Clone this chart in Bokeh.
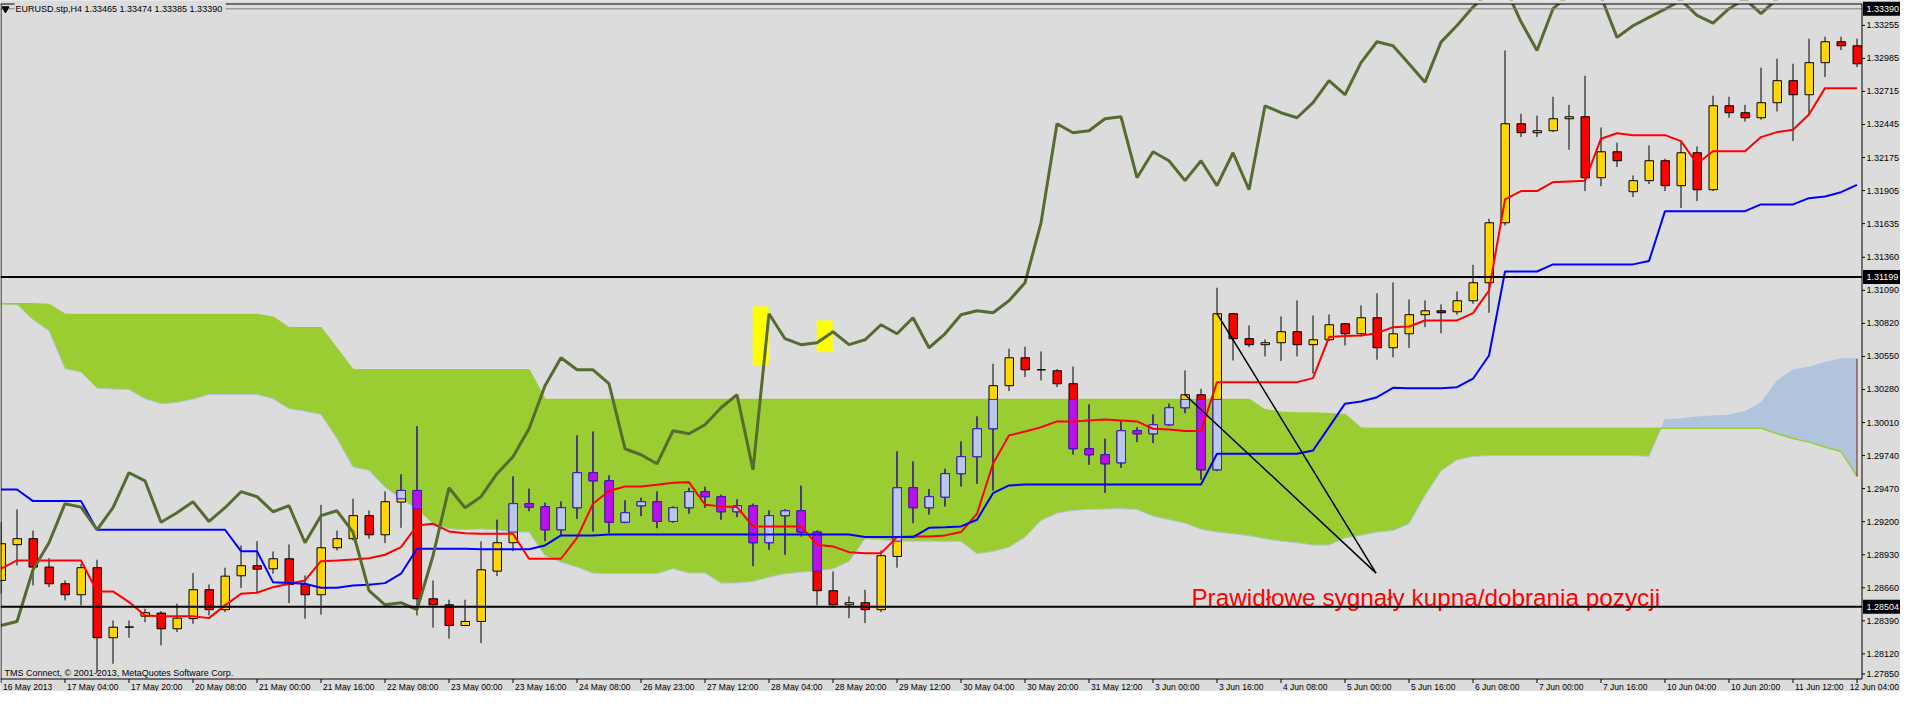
from bokeh.plotting import figure
from bokeh.models import Range1d, Label
from bokeh.core.properties import value
from bokeh.embed import file_html
from bokeh.resources import INLINE

# ---------------- data (EURUSD H4) ----------------
time_labels = ["16 May 2013", "17 May 04:00", "17 May 20:00", "20 May 08:00", "21 May 00:00",
               "21 May 16:00", "22 May 08:00", "23 May 00:00", "23 May 16:00", "24 May 08:00",
               "26 May 23:00", "27 May 12:00", "28 May 04:00", "28 May 20:00", "29 May 12:00",
               "30 May 04:00", "30 May 20:00", "31 May 12:00", "3 Jun 00:00", "3 Jun 16:00",
               "4 Jun 08:00", "5 Jun 00:00", "5 Jun 16:00", "6 Jun 08:00", "7 Jun 00:00",
               "7 Jun 16:00", "10 Jun 04:00", "10 Jun 20:00", "11 Jun 12:00", "12 Jun 04:00"]
time_label_bars = [0, 4, 8, 12, 16, 20, 24, 28, 32, 36, 40, 44, 48, 52, 56, 60, 64, 68, 72, 76,
                   80, 84, 88, 92, 96, 100, 104, 108, 112, 116]

price_tick_labels = ["1.27850", "1.28120", "1.28390", "1.28660", "1.28930", "1.29200", "1.29470",
                     "1.29740", "1.30010", "1.30280", "1.30550", "1.30820", "1.31090", "1.31360",
                     "1.31635", "1.31905", "1.32175", "1.32445", "1.32715", "1.32985", "1.33255"]

opens = [1.28720, 1.29012, 1.29061, 1.28829, 1.28693, 1.28603, 1.28824, 1.28252, 1.28338, 1.28428,
         1.28453, 1.28325, 1.28408, 1.28644, 1.28481, 1.28758, 1.28840, 1.28815, 1.28897, 1.28687,
         1.28603, 1.28987, 1.29061, 1.29249, 1.29093, 1.29360, 1.29455, 1.28570, 1.28521, 1.28352,
         1.28385, 1.28796, 1.29028, 1.29347, 1.29322, 1.29134, 1.29314, 1.29600, 1.29534, 1.29196,
         1.29330, 1.29363, 1.29202, 1.29314, 1.29445, 1.29404, 1.29281, 1.29330, 1.29028, 1.29249,
         1.29289, 1.29115, 1.28636, 1.28521, 1.28538, 1.28481, 1.28916, 1.29477, 1.29314, 1.29401,
         1.29592, 1.29731, 1.29959, 1.30311, 1.30539, 1.30441, 1.30433, 1.30327, 1.29796, 1.29747,
         1.29681, 1.29943, 1.29918, 1.29992, 1.30131, 1.30237, 1.29624, 1.30899, 1.30695, 1.30646,
         1.30662, 1.30752, 1.30646, 1.30686, 1.30817, 1.30735, 1.30866, 1.30621, 1.30735, 1.30891,
         1.30923, 1.30915, 1.31005, 1.31152, 1.31642, 1.32451, 1.32378, 1.32394, 1.32492, 1.32508,
         1.32010, 1.32222, 1.31896, 1.31986, 1.32149, 1.31945, 1.32214, 1.31912, 1.32598, 1.32541,
         1.32500, 1.32623, 1.32803, 1.32688, 1.32950, 1.33121, 1.33088]
highs = [1.29196, 1.29300, 1.29128, 1.28902, 1.28720, 1.28856, 1.28889, 1.28393, 1.28393, 1.28489,
         1.28469, 1.28530, 1.28780, 1.28687, 1.28824, 1.29006, 1.29041, 1.28957, 1.29014, 1.28761,
         1.29338, 1.29128, 1.29387, 1.29292, 1.29447, 1.29586, 1.29981, 1.28720, 1.28562, 1.28562,
         1.29039, 1.29216, 1.29570, 1.29469, 1.29355, 1.29365, 1.29905, 1.29937, 1.29578, 1.29374,
         1.29396, 1.29447, 1.29325, 1.29477, 1.29485, 1.29420, 1.29382, 1.29347, 1.29292, 1.29302,
         1.29494, 1.29128, 1.28793, 1.28589, 1.28644, 1.28965, 1.29774, 1.29692, 1.29466, 1.29632,
         1.29856, 1.30060, 1.30490, 1.30613, 1.30629, 1.30591, 1.30446, 1.30468, 1.30158, 1.29878,
         1.30027, 1.29970, 1.30076, 1.30164, 1.30436, 1.30286, 1.31111, 1.30905, 1.30803, 1.30689,
         1.30877, 1.31008, 1.30885, 1.30893, 1.30820, 1.30967, 1.31067, 1.31155, 1.31016, 1.31008,
         1.30975, 1.31081, 1.31299, 1.31675, 1.33050, 1.32533, 1.32517, 1.32672, 1.32606, 1.32843,
         1.32421, 1.32296, 1.32029, 1.32274, 1.32165, 1.32301, 1.32266, 1.32680, 1.32672, 1.32606,
         1.32909, 1.32982, 1.32941, 1.33146, 1.33162, 1.33162, 1.33146]
lows = [1.28611, 1.28843, 1.28679, 1.28665, 1.28557, 1.28516, 1.27963, 1.28039, 1.28252, 1.28379,
        1.28189, 1.28298, 1.28366, 1.28434, 1.28461, 1.28657, 1.28624, 1.28775, 1.28535, 1.28407,
        1.28440, 1.28965, 1.29047, 1.29061, 1.29025, 1.29150, 1.28434, 1.28334, 1.28244, 1.28350,
        1.28208, 1.28755, 1.28959, 1.29286, 1.29041, 1.29088, 1.29224, 1.29120, 1.29106, 1.29188,
        1.29245, 1.29147, 1.29191, 1.29265, 1.29314, 1.29216, 1.29237, 1.28837, 1.28971, 1.28930,
        1.29079, 1.28516, 1.28497, 1.28412, 1.28371, 1.28461, 1.28824, 1.29188, 1.29259, 1.29325,
        1.29488, 1.29510, 1.29455, 1.30267, 1.30381, 1.30354, 1.30299, 1.29749, 1.29665, 1.29436,
        1.29641, 1.29850, 1.29842, 1.29981, 1.30087, 1.29543, 1.29613, 1.30517, 1.30626, 1.30550,
        1.30512, 1.30550, 1.30409, 1.30675, 1.30640, 1.30713, 1.30523, 1.30544, 1.30618, 1.30789,
        1.30740, 1.30891, 1.30981, 1.30907, 1.31620, 1.32342, 1.32342, 1.32383, 1.32239, 1.31901,
        1.31941, 1.32097, 1.31852, 1.31958, 1.31901, 1.31762, 1.31819, 1.31901, 1.32500, 1.32468,
        1.32484, 1.32552, 1.32309, 1.32525, 1.32832, 1.33053, 1.32914]
closes = [1.29020, 1.29061, 1.28829, 1.28693, 1.28603, 1.28824, 1.28252, 1.28338, 1.28340, 1.28456,
          1.28325, 1.28412, 1.28644, 1.28481, 1.28755, 1.28840, 1.28812, 1.28897, 1.28687, 1.28603,
          1.28987, 1.29061, 1.29249, 1.29093, 1.29363, 1.29455, 1.28570, 1.28521, 1.28352, 1.28385,
          1.28807, 1.29028, 1.29347, 1.29319, 1.29134, 1.29314, 1.29600, 1.29534, 1.29196, 1.29273,
          1.29363, 1.29202, 1.29314, 1.29445, 1.29404, 1.29281, 1.29330, 1.29028, 1.29249, 1.29289,
          1.29115, 1.28636, 1.28521, 1.28538, 1.28481, 1.28922, 1.29477, 1.29314, 1.29404, 1.29592,
          1.29731, 1.29959, 1.30311, 1.30539, 1.30441, 1.30441, 1.30327, 1.29796, 1.29747, 1.29673,
          1.29943, 1.29918, 1.29992, 1.30131, 1.30237, 1.29624, 1.30899, 1.30695, 1.30646, 1.30662,
          1.30752, 1.30646, 1.30686, 1.30809, 1.30735, 1.30866, 1.30621, 1.30735, 1.30891, 1.30923,
          1.30907, 1.31005, 1.31152, 1.31642, 1.32451, 1.32378, 1.32394, 1.32492, 1.32508, 1.32010,
          1.32222, 1.32149, 1.31986, 1.32149, 1.31945, 1.32214, 1.31912, 1.32598, 1.32541, 1.32500,
          1.32623, 1.32803, 1.32688, 1.32950, 1.33121, 1.33088, 1.32941]

tenkan = [1.28816, 1.28883, 1.28883, 1.28883, 1.28883, 1.28883, 1.28630, 1.28630, 1.28543, 1.28434,
          1.28428, 1.28428, 1.28428, 1.28412, 1.28516, 1.28611, 1.28619, 1.28665, 1.28693, 1.28720,
          1.28877, 1.28883, 1.28891, 1.28902, 1.28930, 1.28992, 1.29169, 1.29183, 1.29120, 1.29106,
          1.29101, 1.29101, 1.29101, 1.28897, 1.28897, 1.28897, 1.29068, 1.29347, 1.29450, 1.29488,
          1.29488, 1.29502, 1.29518, 1.29523, 1.29338, 1.29325, 1.29319, 1.29161, 1.29161, 1.29161,
          1.29161, 1.29012, 1.28998, 1.28951, 1.28943, 1.28943, 1.29074, 1.29079, 1.29079, 1.29088,
          1.29115, 1.29265, 1.29673, 1.29905, 1.29937, 1.29972, 1.30019, 1.30019, 1.30027, 1.30035,
          1.30027, 1.30019, 1.29959, 1.29954, 1.29940, 1.29940, 1.30340, 1.30340, 1.30340, 1.30340,
          1.30340, 1.30340, 1.30373, 1.30708, 1.30716, 1.30722, 1.30740, 1.30789, 1.30795, 1.30844,
          1.30844, 1.30844, 1.30904, 1.31089, 1.31833, 1.31901, 1.31901, 1.31974, 1.31980, 1.31985,
          1.32329, 1.32374, 1.32358, 1.32358, 1.32358, 1.32309, 1.32124, 1.32227, 1.32227, 1.32227,
          1.32342, 1.32383, 1.32402, 1.32527, 1.32742, 1.32742, 1.32742]
kijun = [1.29463, 1.29463, 1.29368, 1.29368, 1.29368, 1.29368, 1.29134, 1.29134, 1.29134, 1.29134,
         1.29134, 1.29134, 1.29134, 1.29134, 1.29134, 1.28959, 1.28959, 1.28706, 1.28700, 1.28693,
         1.28660, 1.28660, 1.28679, 1.28685, 1.28698, 1.28775, 1.28979, 1.28979, 1.28979, 1.28979,
         1.28975, 1.28975, 1.28975, 1.28975, 1.29006, 1.29088, 1.29088, 1.29088, 1.29096, 1.29096,
         1.29096, 1.29096, 1.29096, 1.29096, 1.29096, 1.29096, 1.29096, 1.29096, 1.29096, 1.29096,
         1.29096, 1.29096, 1.29096, 1.29096, 1.29074, 1.29074, 1.29074, 1.29074, 1.29150, 1.29155,
         1.29161, 1.29216, 1.29433, 1.29496, 1.29504, 1.29504, 1.29504, 1.29504, 1.29504, 1.29504,
         1.29504, 1.29504, 1.29504, 1.29504, 1.29504, 1.29504, 1.29755, 1.29755, 1.29755, 1.29755,
         1.29755, 1.29755, 1.29782, 1.29972, 1.30164, 1.30182, 1.30217, 1.30294, 1.30291, 1.30291,
         1.30291, 1.30299, 1.30368, 1.30558, 1.31244, 1.31244, 1.31244, 1.31302, 1.31302, 1.31302,
         1.31302, 1.31302, 1.31302, 1.31329, 1.31737, 1.31737, 1.31737, 1.31737, 1.31737, 1.31737,
         1.31792, 1.31792, 1.31792, 1.31843, 1.31857, 1.31892, 1.31952]
span_a = [1.30981, 1.30981, 1.30981, 1.30975, 1.30893, 1.30893, 1.30893, 1.30893, 1.30893, 1.30893,
          1.30893, 1.30893, 1.30893, 1.30893, 1.30893, 1.30893, 1.30893, 1.30871, 1.30784, 1.30784,
          1.30784, 1.30613, 1.30441, 1.30441, 1.30441, 1.30441, 1.30441, 1.30441, 1.30441, 1.30441,
          1.30441, 1.30441, 1.30441, 1.30441, 1.30199, 1.30199, 1.30199, 1.30199, 1.30199, 1.30199,
          1.30199, 1.30199, 1.30199, 1.30199, 1.30199, 1.30199, 1.30199, 1.30199, 1.30199, 1.30199,
          1.30199, 1.30199, 1.30199, 1.30199, 1.30199, 1.30199, 1.30199, 1.30199, 1.30199, 1.30199,
          1.30199, 1.30199, 1.30199, 1.30199, 1.30199, 1.30199, 1.30199, 1.30199, 1.30199, 1.30199,
          1.30199, 1.30199, 1.30199, 1.30199, 1.30199, 1.30199, 1.30199, 1.30199, 1.30199, 1.30114,
          1.30095, 1.30087, 1.30087, 1.30082, 1.30076, 1.29964, 1.29964, 1.29964, 1.29964, 1.29964,
          1.29964, 1.29964, 1.29964, 1.29964, 1.29964, 1.29964, 1.29964, 1.29964, 1.29964, 1.29964,
          1.29964, 1.29964, 1.29964, 1.29964, 1.29964, 1.29964, 1.29964, 1.29964, 1.29964, 1.29964,
          1.29964, 1.29920, 1.29880, 1.29850, 1.29810, 1.29774, 1.29570]
span_b = [1.30981, 1.30975, 1.30850, 1.30760, 1.30450, 1.30422, 1.30291, 1.30283, 1.30280, 1.30204,
          1.30164, 1.30174, 1.30201, 1.30240, 1.30240, 1.30240, 1.30240, 1.30204, 1.30123, 1.30103,
          1.30076, 1.29878, 1.29646, 1.29619, 1.29482, 1.29387, 1.29306, 1.29183, 1.29142, 1.29134,
          1.29140, 1.29134, 1.29115, 1.29115, 1.28924, 1.28869, 1.28829, 1.28780, 1.28774, 1.28774,
          1.28774, 1.28774, 1.28816, 1.28780, 1.28780, 1.28698, 1.28700, 1.28712, 1.28747, 1.28774,
          1.28788, 1.28796, 1.28816, 1.28875, 1.29061, 1.29052, 1.29041, 1.29041, 1.29041, 1.29039,
          1.29039, 1.28938, 1.28957, 1.28992, 1.29074, 1.29210, 1.29270, 1.29292, 1.29300, 1.29303,
          1.29306, 1.29300, 1.29245, 1.29216, 1.29188, 1.29139, 1.29115, 1.29101, 1.29085, 1.29061,
          1.29041, 1.29028, 1.29009, 1.29009, 1.29068, 1.29088, 1.29115, 1.29128, 1.29183, 1.29414,
          1.29615, 1.29705, 1.29733, 1.29740, 1.29740, 1.29740, 1.29740, 1.29740, 1.29740, 1.29740,
          1.29740, 1.29740, 1.29740, 1.29733, 1.30035, 1.30040, 1.30055, 1.30064, 1.30070, 1.30100,
          1.30170, 1.30350, 1.30440, 1.30463, 1.30500, 1.30531, 1.30531]
# Chikou span: closes shifted back, then the part taken from later (off-screen) closes
chikou_shift = 28
chikou_tail = [1.32791, 1.33118, 1.33254, 1.33404, 1.33520, 1.33570, 1.33284, 1.33050, 1.33391, 1.33500,
               1.33560, 1.33490, 1.33157, 1.33252, 1.33320, 1.33387, 1.33460, 1.33337, 1.33273, 1.33391,
               1.33470, 1.33350, 1.33470]

bid_price = 1.33390
level_lines = [1.31199, 1.28504]
title_text = "EURUSD.stp,H4  1.33465 1.33474 1.33385 1.33390"
copyright_text = "TMS Connect, \u00a9 2001-2013, MetaQuotes Software Corp."

# highlighted chikou zones (bar from, bar to, price low, price high)
marker_left = [46.98, 50.98]
marker_right = [47.98, 51.98]
marker_bottom = [1.30476, 1.30585]
marker_top = [1.30959, 1.30844]

# hand-drawn trend lines
trend_x0 = [74.0, 76.0]
trend_y0 = [1.30237, 1.30899]
trend_x1 = [85.94, 85.94]
trend_y1 = [1.28780, 1.28780]

signal_text = "Prawid\u0142owe sygna\u0142y kupna/dobrania pozycji"
signal_x = 74.4
signal_y = 1.28581

# ---------------- layout / styling ----------------
W, H = 1900, 691
PX_PER_BAR = 16.0
PX_PER_PRICE = 12240.0
FRAME_TOP_PX = 3.5
FRAME_RIGHT_PX = 1861.5
FRAME_BOTTOM_PX = 678.5
X_START = -0.5 / PX_PER_BAR          # bar 0 centred on canvas pixel 0.5
Y_CANVAS_TOP = 1.33458               # price at canvas top edge


def bx(px):            # canvas px -> bar coordinate
    return X_START + px / PX_PER_BAR


def pdy(px):           # pixel distance -> price distance
    return px / PX_PER_PRICE


def py(px):            # canvas px from top -> price
    return Y_CANVAS_TOP - pdy(px)


def ppx(price):        # price -> canvas px from top
    return (Y_CANVAS_TOP - price) * PX_PER_PRICE


X_FRAME_END = bx(FRAME_RIGHT_PX)
Y_FRAME_TOP = py(FRAME_TOP_PX)
Y_FRAME_BOT = py(FRAME_BOTTOM_PX)

BG = "#DCDCDC"
GOLD = "#FFD700"
RED = "#FF0000"
CLOUD_UP = "#9ACD32"
CLOUD_DN = "#B0C4DE"
FONT = "Liberation Sans"
SMALL = "9px"
TIME_SIZE = 8.5
CHAR_W = {" ": .278, ":": .278, ".": .278, ",": .278, "M": .833, "J": .5, "y": .5}


def text_w(s, size_px):
    return sum(CHAR_W.get(ch, .556) for ch in s) * size_px


def xor3(c1, c2, c3):
    v = [int(c1[k:k + 2], 16) ^ int(c2[k:k + 2], 16) ^ int(c3[k:k + 2], 16) for k in (1, 3, 5)]
    return "#%02X%02X%02X" % tuple(v)


p = figure(width=W, height=H, x_range=Range1d(X_START, bx(W)), y_range=Range1d(py(H), Y_CANVAS_TOP),
           x_axis_location=None, y_axis_location=None, output_backend="svg", toolbar_location=None,
           min_border=0, background_fill_color=BG, border_fill_color=BG, outline_line_color=None)
p.grid.visible = False

n = len(opens)
idx = list(range(n))

# ---- Ichimoku cloud (split where the spans cross) ----
runs = []
xs, y1, y2 = [0], [span_a[0]], [span_b[0]]
up = span_a[0] >= span_b[0]
for i in range(1, n):
    u = span_a[i] >= span_b[i]
    if u != up:
        d0 = span_a[i - 1] - span_b[i - 1]
        d1 = span_a[i] - span_b[i]
        t = d0 / (d0 - d1)
        xc = i - 1 + t
        yc = span_a[i - 1] + t * (span_a[i] - span_a[i - 1])
        xs.append(xc); y1.append(yc); y2.append(yc)
        runs.append((up, xs, y1, y2))
        xs, y1, y2 = [xc], [yc], [yc]
        up = u
    xs.append(i); y1.append(span_a[i]); y2.append(span_b[i])
runs.append((up, xs, y1, y2))
for is_up, rx, ry1, ry2 in runs:
    p.varea(x=rx, y1=ry1, y2=ry2, fill_color=CLOUD_UP if is_up else CLOUD_DN)
p.line(idx, span_b, line_color=CLOUD_DN, line_width=1)
p.line(idx, span_a, line_color=CLOUD_UP, line_width=1.5)
p.segment(x0=[idx[-1]], y0=[span_a[-1]], x1=[idx[-1]], y1=[span_b[-1]], line_color="#6B2410", line_width=1)

# ---- highlighted zones ----
p.quad(left=marker_left, right=marker_right, bottom=marker_bottom, top=marker_top,
       fill_color="#FFFF00", line_color=None)

# ---- candles ----
LEFT_OFF = 4.0 / PX_PER_BAR
RIGHT_OFF = 4.5 / PX_PER_BAR
body_top = [max(o, c) for o, c in zip(opens, closes)]
body_bot = [min(o, c) for o, c in zip(opens, closes)]
body_col = [GOLD if c >= o else RED for o, c in zip(opens, closes)]
p.segment(x0=idx, y0=lows, x1=idx, y1=highs, line_color="black", line_width=1)
p.quad(left=[i - LEFT_OFF for i in idx], right=[i + RIGHT_OFF for i in idx],
       top=body_top, bottom=body_bot, fill_color=body_col, line_color="black", line_width=1)

# parts of candles inside the cloud are drawn XOR-ed with the cloud colour
wx, wy0, wy1, wc = [], [], [], []
ql, qr, qt, qb, qf, qc = [], [], [], [], [], []
for i in idx:
    lo, hi = min(span_a[i], span_b[i]), max(span_a[i], span_b[i])
    cloud = CLOUD_UP if span_a[i] >= span_b[i] else CLOUD_DN
    edge = xor3("#000000", cloud, BG)
    w0, w1 = max(lows[i], lo), min(highs[i], hi)
    if w1 > w0:
        wx.append(i); wy0.append(w0); wy1.append(w1); wc.append(edge)
    b0, b1 = max(body_bot[i], lo), min(body_top[i], hi)
    if b1 >= b0:
        ql.append(i - LEFT_OFF); qr.append(i + RIGHT_OFF); qb.append(b0); qt.append(b1)
        qf.append(xor3(body_col[i], cloud, BG)); qc.append(edge)
p.segment(x0=wx, y0=wy0, x1=wx, y1=wy1, line_color=wc, line_width=1)
p.quad(left=ql, right=qr, top=qt, bottom=qb, fill_color=qf, line_color=qc, line_width=1)

# ---- Ichimoku lines ----
p.line(idx, tenkan, line_color="#FF0000", line_width=2)
p.line(idx, kijun, line_color="#0000FF", line_width=2)
chikou = closes[chikou_shift:] + chikou_tail
p.line(list(range(len(chikou))), chikou, line_color="#556B2F", line_width=3)

# ---- trend lines and comment ----
p.segment(x0=trend_x0, y0=trend_y0, x1=trend_x1, y1=trend_y1, line_color="black", line_width=1.5)
p.text(x=[signal_x], y=[signal_y], text=[signal_text], text_font=value(FONT),
       text_font_size=value("24.3px"), text_color="#FF0000", text_baseline="alphabetic", text_align="left")

# ---- horizontal levels (bid line + two user lines) ----
p.segment(x0=[X_START], y0=[bid_price], x1=[X_FRAME_END], y1=[bid_price], line_color="#808080", line_width=1)
p.segment(x0=[X_START] * len(level_lines), y0=level_lines, x1=[X_FRAME_END] * len(level_lines),
          y1=level_lines, line_color="black", line_width=2)

# ---- mask above the chart frame and chart border ----
p.quad(left=[X_START], right=[bx(W)], bottom=[Y_FRAME_TOP], top=[Y_CANVAS_TOP], fill_color=BG, line_color=None)
p.multi_line(xs=[[bx(0.5), bx(0.5)], [X_START, X_FRAME_END], [X_START, X_FRAME_END], [X_FRAME_END, X_FRAME_END]],
             ys=[[Y_FRAME_TOP, Y_FRAME_BOT], [Y_FRAME_TOP, Y_FRAME_TOP], [Y_FRAME_BOT, Y_FRAME_BOT],
                 [Y_FRAME_TOP, Y_FRAME_BOT]],
             line_color="black", line_width=1)

# ---- price scale (right) ----
tick_vals = [float(s) for s in price_tick_labels]
tick_pos = [py(min(ppx(v), FRAME_BOTTOM_PX - 5)) for v in tick_vals]
p.segment(x0=[X_FRAME_END] * len(tick_pos), y0=tick_pos, x1=[bx(FRAME_RIGHT_PX + 3)] * len(tick_pos),
          y1=tick_pos, line_color="black", line_width=1)
p.text(x=[bx(FRAME_RIGHT_PX + 4.5)] * len(tick_pos), y=tick_pos, text=price_tick_labels,
       text_font=value(FONT), text_font_size=value(SMALL), text_color="black",
       text_baseline="middle", text_align="left")

box_prices = [bid_price] + level_lines
box_pos = [py(max(ppx(v), 7.5)) for v in box_prices]
p.quad(left=[bx(FRAME_RIGHT_PX + 1)] * len(box_pos), right=[bx(W)] * len(box_pos),
       top=[b + pdy(7) for b in box_pos], bottom=[b - pdy(7) for b in box_pos],
       fill_color="black", line_color=None)
p.text(x=[bx(FRAME_RIGHT_PX + 4.5)] * len(box_pos), y=box_pos, text=["%.5f" % v for v in box_prices],
       text_font=value(FONT), text_font_size=value(SMALL), text_color="white",
       text_baseline="middle", text_align="left")

# ---- time scale (bottom) ----
vis_bars = [b for b in time_label_bars if b >= X_START]
p.segment(x0=vis_bars, y0=[Y_FRAME_BOT] * len(vis_bars), x1=vis_bars,
          y1=[Y_FRAME_BOT - pdy(4)] * len(vis_bars), line_color="black", line_width=1)
lab_x = []
for b, txt in zip(time_label_bars, time_labels):
    left_px = (b - X_START) * PX_PER_BAR + 2
    left_px = max(1.5, min(left_px, W - 1.5 - text_w(txt, TIME_SIZE)))
    lab_x.append(bx(left_px))
p.text(x=lab_x, y=[py(FRAME_BOTTOM_PX + 7.5)] * len(lab_x), text=time_labels,
       text_font=value(FONT), text_font_size=value("%gpx" % TIME_SIZE), text_color="black",
       text_baseline="middle", text_align="left")

# ---- header marker, title and copyright ----
p.scatter(x=[bx(5)], y=[bid_price], marker="inverted_triangle", size=7,
          fill_color="black", line_color="black")
p.add_layout(Label(x=bx(14), y=bid_price, text=title_text, text_font=FONT,
                   text_font_size=SMALL, text_color="black", text_baseline="middle", text_align="left",
                   background_fill_color=BG, padding=1))
p.text(x=[bx(4)], y=[py(FRAME_BOTTOM_PX - 1.5)], text=[copyright_text], text_font=value(FONT),
       text_font_size=value(SMALL), text_color="black", text_baseline="bottom", text_align="left")

open("out.html", "w").write(file_html(p, INLINE))
